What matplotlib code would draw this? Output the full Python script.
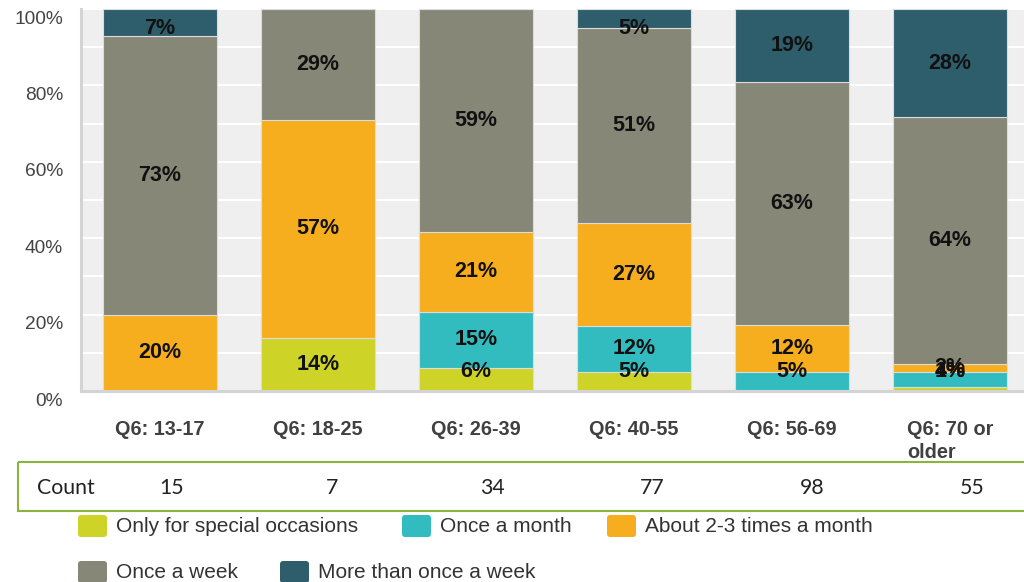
import matplotlib
matplotlib.use('Agg')
import matplotlib.pyplot as plt
from matplotlib.patches import Rectangle, FancyBboxPatch
from matplotlib.transforms import ScaledTranslation, blended_transform_factory
import numpy as np

plt.rcParams['font.family'] = ['Liberation Sans', 'DejaVu Sans']

categories = ['Q6: 13-17', 'Q6: 18-25', 'Q6: 26-39', 'Q6: 40-55', 'Q6: 56-69', 'Q6: 70 or\nolder']
counts = [15, 7, 34, 77, 98, 55]

series_names = ['Only for special occasions', 'Once a month', 'About 2-3 times a month',
                'Once a week', 'More than once a week']
special = [0, 14, 6, 5, 0, 1]
monthly = [0, 0, 15, 12, 5, 4]
two_three = [20, 57, 21, 27, 12, 2]
weekly = [73, 29, 59, 51, 63, 64]
more_weekly = [7, 0, 0, 5, 19, 28]

colours = ['#cdd327', '#33bcbf', '#f6ae1e', '#878777', '#2e5e6b']

W, H = 1024, 582
fig = plt.figure(figsize=(W / 100, H / 100), dpi=100)
fig.patch.set_facecolor('white')

# plot area runs off the right edge like the original
ax = fig.add_axes([81 / W, 1 - 391 / H, 948 / W, 382 / H])
ax.set_facecolor('#efefef')
ax.set_xlim(-0.5, 5.5)
ax.set_ylim(0, 100)

series = np.array([special, monthly, two_three, weekly, more_weekly], dtype=float)
totals = series.sum(axis=0)
pct = series / totals * 100  # 100% stacked
x = np.arange(len(categories))

bottom = np.zeros(len(categories))
for k, name in enumerate(series_names):
    ax.bar(x, pct[k], 0.72, bottom=bottom, color=colours[k], edgecolor='#dcdcdc',
           linewidth=0.8, zorder=2, label=name)
    for i in range(len(categories)):
        if series[k, i] <= 0:
            continue
        # labels of thin segments are kept inside the 5-95% band, as in the source
        yc = min(max(bottom[i] + pct[k, i] / 2, 5), 95)
        ax.text(x[i], yc, f'{int(series[k, i])}%', ha='center', va='center',
                fontsize=15.5, fontweight='bold', color='#111111', zorder=4)
    bottom += pct[k]

ax.set_yticks([0, 20, 40, 60, 80, 100])
ax.set_yticklabels(['0%', '20%', '40%', '60%', '80%', '100%'])
ax.set_yticks(np.arange(10, 100, 20), minor=True)
ax.tick_params(axis='y', which='both', length=0, pad=13, labelsize=13.8, labelcolor='#444444')
ax.set_xticks([])
ax.grid(axis='y', which='both', color='white', linewidth=1.5, zorder=0)
ax.set_axisbelow(True)
offset = ScaledTranslation(0, -8 / 100, fig.dpi_scale_trans)
for lab in ax.get_yticklabels():
    lab.set_transform(lab.get_transform() + offset)

for side in ['top', 'right']:
    ax.spines[side].set_visible(False)
for side in ['left', 'bottom']:
    ax.spines[side].set_color('#d4d4d4')
    ax.spines[side].set_linewidth(2.2)

# category labels under the bars
trans = blended_transform_factory(ax.transData, fig.transFigure)
for i, cat in enumerate(categories):
    ax.text(x[i], 1 - 420 / H, cat, transform=trans, ha='center', va='top',
            multialignment='left', fontsize=14.3, fontweight='bold', color='#404040',
            linespacing=1.3)

# overlay in pixel coordinates for the count row and the legend
ov = fig.add_axes([0, 0, 1, 1])
ov.set_xlim(0, W)
ov.set_ylim(H, 0)
ov.axis('off')
ov.patch.set_alpha(0)

ov.add_patch(Rectangle((18, 462), 1100, 49, facecolor='none', edgecolor='#8db33f', linewidth=1.5))
ov.text(37, 488, 'Count', ha='left', va='center', fontsize=15.3, family='Lato', color='#222222')
for i, c in enumerate(counts):
    ov.text(172 + 160 * i, 488, str(c), ha='center', va='center', fontsize=15.3,
            family='Lato', color='#222222')

legend_pos = [(78, 526), (402, 526), (607, 526), (78, 572), (280, 572)]
for (lx, ly), name, col in zip(legend_pos, series_names, colours):
    ov.add_patch(FancyBboxPatch((lx + 2, ly - 9), 25, 18, boxstyle='round,pad=2,rounding_size=3',
                                facecolor=col, edgecolor='none'))
    ov.text(lx + 38, ly, name, ha='left', va='center', fontsize=15, color='#333333')

fig.savefig('out.png', dpi=100)
